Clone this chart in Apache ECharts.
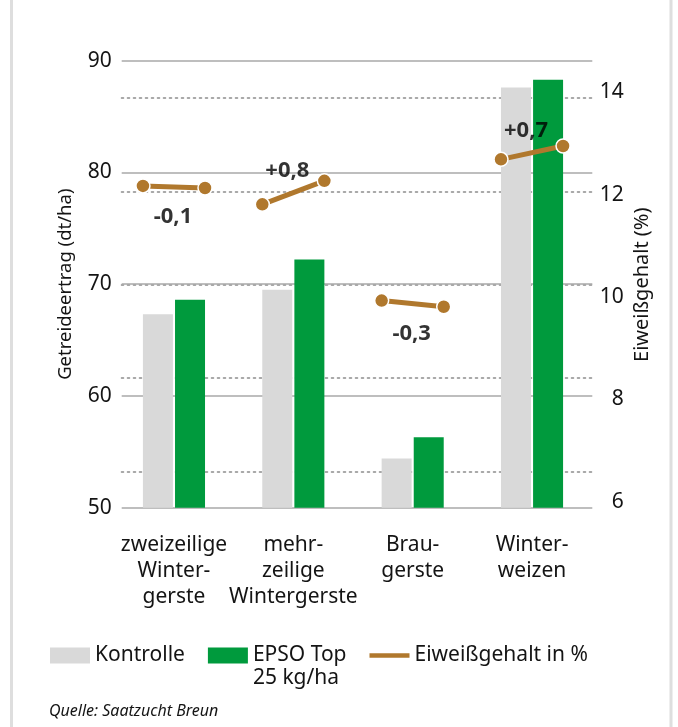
<!DOCTYPE html>
<html>
<head>
<meta charset="utf-8">
<script src="https://cdn.jsdelivr.net/npm/echarts/dist/echarts.min.js"></script>
<style>
html,body{margin:0;padding:0;background:#fff;}
#c{width:678px;height:727px;}
</style>
</head>
<body>
<div id="c"></div>
<script>
// ---- data ----
const categories = ['zweizeilige\nWinter-\ngerste', 'mehr-\nzeilige\nWintergerste', 'Brau-\ngerste', 'Winter-\nweizen'];
const kontrolle = [67.3, 69.5, 54.4, 87.6];
const epso = [68.6, 72.2, 56.3, 88.3];
const proteinKontrolle = [12.17, 11.81, 9.93, 12.69];
const proteinEpso = [12.13, 12.27, 9.81, 12.95];
const diffLabels = ['-0,1', '+0,8', '-0,3', '+0,7'];
const yieldAxis = { min: 50, max: 90, interval: 10 };
const proteinAxis = { min: 6, max: 14, interval: 2 };
const seriesNames = ['Kontrolle', 'EPSO Top 25 kg/ha', 'Eiweißgehalt in %'];
const yieldAxisName = 'Getreideertrag (dt/ha)';
const proteinAxisName = 'Eiweißgehalt (%)';
const sourceText = 'Quelle: Saatzucht Breun';

// ---- style ----
const FONT = '"Noto Sans", sans-serif';
const TXT = '#141414';
const GREY = '#d9d9d9';
const GREEN = '#009a3d';
const BROWN = '#b0782d';
const GRIDLINE = '#a8a8a8';

const chart = echarts.init(document.getElementById('c'), null, { renderer: 'canvas' });

const lineSeries = categories.map((c, i) => ({
  type: 'line',
  name: seriesNames[2],
  xAxisIndex: 2, yAxisIndex: 2,
  data: [[i - 0.26, proteinKontrolle[i]], [i + 0.26, proteinEpso[i]]],
  symbol: 'circle', symbolSize: 14, showSymbol: true,
  lineStyle: { color: BROWN, width: 5 },
  itemStyle: { color: BROWN, borderColor: '#fff', borderWidth: 1.5 },
  z: 5, silent: true
}));

const labelSeries = {
  type: 'scatter',
  xAxisIndex: 2, yAxisIndex: 2,
  symbolSize: 1,
  itemStyle: { color: 'rgba(0,0,0,0)' },
  silent: true, z: 6,
  data: categories.map((c, i) => ({
    value: [i, (proteinKontrolle[i] + proteinEpso[i]) / 2],
    label: { offset: diffLabels[i].charAt(0) === '-' ? [-1, 30] : [-6, -22] }
  })),
  label: {
    show: true, position: 'inside',
    formatter: p => diffLabels[p.dataIndex],
    fontSize: 22, fontWeight: 'bold', color: '#000', fontFamily: FONT
  }
};

const option = {
  animation: false,
  backgroundColor: '#fff',
  textStyle: { fontFamily: FONT },
  title: {
    text: sourceText, left: 49, top: 703, padding: 0,
    textStyle: { fontStyle: 'italic', fontWeight: 'normal', fontSize: 16, color: TXT, fontFamily: FONT }
  },
  legend: {
    left: 50, top: 621, padding: 0,
    itemWidth: 40, itemHeight: 16, itemGap: 23,
    textStyle: { fontSize: 21, color: TXT, fontFamily: FONT, lineHeight: 23 },
    itemStyle: { borderWidth: 0 },
    formatter: name => name === seriesNames[1] ? '\nEPSO Top\n25 kg/ha' : name,
    data: [
      { name: seriesNames[0], icon: 'rect' },
      { name: seriesNames[1], icon: 'rect' },
      { name: seriesNames[2], icon: 'path://M0,0H44V5H0Z' }
    ]
  },
  graphic: [
    { type: 'rect', shape: { x: 10, y: 0, width: 3, height: 727 }, style: { fill: '#dedede' }, silent: true },
    { type: 'rect', shape: { x: 669.5, y: 0, width: 3, height: 727 }, style: { fill: '#dedede' }, silent: true }
  ],
  grid: [
    { left: 121.7, right: 85.7, top: 60.7, bottom: 219.3, outerBoundsMode: 'none' },
    { left: 114.3, right: 86.3, top: 60.7, bottom: 219.3, outerBoundsMode: 'none' },
    { left: 114.3, right: 86.3, top: 92.3, bottom: 225.3, outerBoundsMode: 'none' },
    { left: 121.7, right: 85.7, top: 98, bottom: 255.5, outerBoundsMode: 'none' }
  ],
  xAxis: [
    { gridIndex: 0, type: 'value', show: false },
    {
      gridIndex: 1, type: 'category', data: categories,
      axisLine: { show: false }, axisTick: { show: false },
      axisLabel: { fontSize: 21, lineHeight: 26, margin: 24, color: TXT, fontFamily: FONT, interval: 0 }
    },
    { gridIndex: 2, type: 'value', min: -0.5, max: 3.5, show: false },
    { gridIndex: 3, type: 'value', show: false }
  ],
  yAxis: [
    {
      gridIndex: 0, type: 'value', min: yieldAxis.min, max: yieldAxis.max, interval: yieldAxis.interval,
      position: 'left',
      axisLine: { show: false }, axisTick: { show: false },
      axisLabel: { fontSize: 21, margin: 10, color: TXT, fontFamily: FONT },
      splitLine: { show: true, lineStyle: { color: GRIDLINE, width: 1.5, type: 'solid' } },
      name: yieldAxisName, nameLocation: 'middle', nameRotate: 90, nameGap: 46,
      nameTextStyle: { fontSize: 18.5, color: TXT, fontFamily: FONT }
    },
    { gridIndex: 1, type: 'value', min: yieldAxis.min, max: yieldAxis.max, show: false },
    {
      gridIndex: 2, type: 'value', min: proteinAxis.min, max: proteinAxis.max, interval: proteinAxis.interval,
      position: 'right',
      axisLine: { show: false }, axisTick: { show: false },
      axisLabel: { fontSize: 21, margin: 32, align: 'right', color: TXT, fontFamily: FONT },
      splitLine: { show: false }
    },
    {
      gridIndex: 3, type: 'value', min: 0, max: 4, interval: 1, position: 'right',
      axisLine: { show: false }, axisTick: { show: false }, axisLabel: { show: false },
      splitLine: { show: true, lineStyle: { color: GRIDLINE, width: 2, type: [1.6, 4.4], cap: 'round' } },
      name: proteinAxisName, nameLocation: 'middle', nameRotate: 90, nameGap: 40,
      nameTextStyle: { fontSize: 20, color: TXT, fontFamily: FONT }
    }
  ],
  series: [
    {
      type: 'bar', name: seriesNames[0], xAxisIndex: 1, yAxisIndex: 1,
      data: kontrolle, barWidth: 30, barGap: '7%',
      itemStyle: { color: GREY }, silent: true
    },
    {
      type: 'bar', name: seriesNames[1], xAxisIndex: 1, yAxisIndex: 1,
      data: epso, barWidth: 30, barGap: '7%',
      itemStyle: { color: GREEN }, silent: true
    },
    ...lineSeries,
    labelSeries
  ]
};

chart.setOption(option);
</script>
</body>
</html>
